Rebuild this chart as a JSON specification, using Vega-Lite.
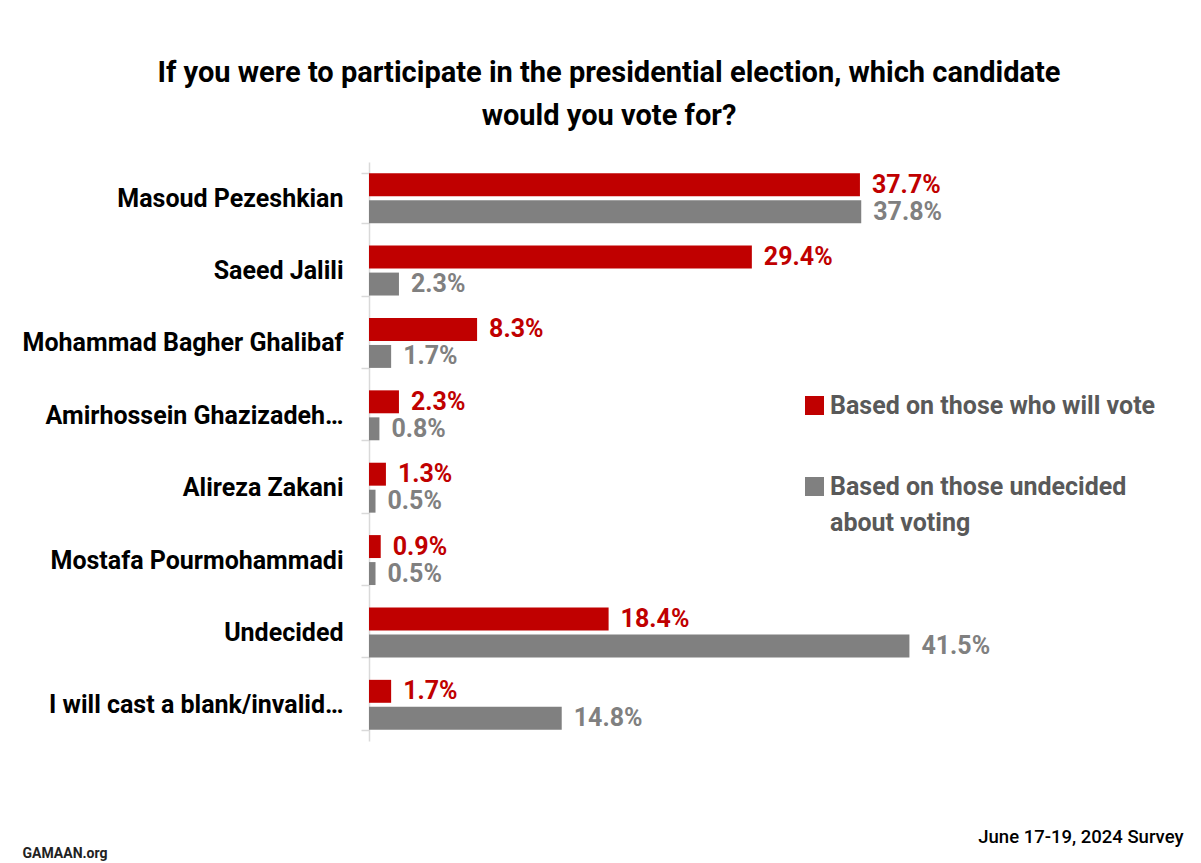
{
  "$schema": "https://vega.github.io/schema/vega-lite/v6.json",
  "autosize": {"type": "none"},
  "width": 586,
  "height": 579,
  "padding": {"left": 369, "top": 162, "right": 246, "bottom": 122},
  "background": "#ffffff",
  "config": {
    "font": "Roboto",
    "view": {"stroke": null},
    "legend": {"symbolType": "square"},
    "style": {"guide-label": {"lineHeight": 36}}
  },
  "title": {
    "text": ["If you were to participate in the presidential election, which candidate", "would you vote for?"],
    "anchor": "middle",
    "frame": "group",
    "dx": -53,
    "offset": 19,
    "fontSize": 29,
    "fontWeight": "bold",
    "font": "Roboto",
    "color": "#000000",
    "lineHeight": 43
  },
  "data": {
    "values": [
      {"candidate": "Masoud Pezeshkian", "basis": "Based on those who will vote", "value": 37.7, "label": "37.7%"},
      {"candidate": "Masoud Pezeshkian", "basis": "Based on those undecided about voting", "value": 37.8, "label": "37.8%"},
      {"candidate": "Saeed Jalili", "basis": "Based on those who will vote", "value": 29.4, "label": "29.4%"},
      {"candidate": "Saeed Jalili", "basis": "Based on those undecided about voting", "value": 2.3, "label": "2.3%"},
      {"candidate": "Mohammad Bagher Ghalibaf", "basis": "Based on those who will vote", "value": 8.3, "label": "8.3%"},
      {"candidate": "Mohammad Bagher Ghalibaf", "basis": "Based on those undecided about voting", "value": 1.7, "label": "1.7%"},
      {"candidate": "Amirhossein Ghazizadeh…", "basis": "Based on those who will vote", "value": 2.3, "label": "2.3%"},
      {"candidate": "Amirhossein Ghazizadeh…", "basis": "Based on those undecided about voting", "value": 0.8, "label": "0.8%"},
      {"candidate": "Alireza Zakani", "basis": "Based on those who will vote", "value": 1.3, "label": "1.3%"},
      {"candidate": "Alireza Zakani", "basis": "Based on those undecided about voting", "value": 0.5, "label": "0.5%"},
      {"candidate": "Mostafa Pourmohammadi", "basis": "Based on those who will vote", "value": 0.9, "label": "0.9%"},
      {"candidate": "Mostafa Pourmohammadi", "basis": "Based on those undecided about voting", "value": 0.5, "label": "0.5%"},
      {"candidate": "Undecided", "basis": "Based on those who will vote", "value": 18.4, "label": "18.4%"},
      {"candidate": "Undecided", "basis": "Based on those undecided about voting", "value": 41.5, "label": "41.5%"},
      {"candidate": "I will cast a blank/invalid…", "basis": "Based on those who will vote", "value": 1.7, "label": "1.7%"},
      {"candidate": "I will cast a blank/invalid…", "basis": "Based on those undecided about voting", "value": 14.8, "label": "14.8%"}
    ]
  },
  "encoding": {
    "y": {
      "field": "candidate",
      "type": "nominal",
      "sort": null,
      "scale": {"paddingInner": 0.31, "paddingOuter": 0.155},
      "axis": {
        "title": "GAMAAN.org",
        "titleAngle": 0,
        "titleX": -347,
        "titleY": 695,
        "titleAlign": "left",
        "titleBaseline": "alphabetic",
        "titleFontSize": 14,
        "titleFontWeight": "bold",
        "titleColor": "#222222",
        "domainColor": "#D9D9D9",
        "domainWidth": 1.5,
        "tickColor": "#D9D9D9",
        "tickWidth": 1.5,
        "tickSize": 8,
        "tickBand": "extent",
        "labelPadding": 18,
        "labelFontSize": 25,
        "labelFontWeight": "bold",
        "labelColor": "#000000",
        "labelLimit": 360
      }
    },
    "yOffset": {
      "field": "basis",
      "type": "nominal",
      "sort": null,
      "scale": {"paddingInner": 0.15}
    },
    "x": {
      "field": "value",
      "type": "quantitative",
      "scale": {"domain": [0, 45], "nice": false},
      "axis": {
        "title": "June 17-19, 2024 Survey",
        "titleX": 814,
        "titleY": 101,
        "titleAlign": "right",
        "titleAnchor": null,
        "titleBaseline": "alphabetic",
        "titleFontSize": 18.5,
        "titleFontWeight": 500,
        "titleColor": "#000000",
        "domain": false,
        "ticks": false,
        "labels": false,
        "grid": false
      }
    },
    "color": {
      "field": "basis",
      "type": "nominal",
      "sort": null,
      "scale": {
        "domain": ["Based on those who will vote", "Based on those undecided about voting"],
        "range": ["#C00000", "#808080"]
      },
      "legend": {
        "title": null,
        "orient": "none",
        "legendX": 433,
        "legendY": 231,
        "padding": 0,
        "symbolSize": 361,
        "symbolStrokeWidth": 0,
        "labelFontSize": 25,
        "labelFontWeight": "bold",
        "labelColor": "#595959",
        "labelOffset": 3,
        "labelLimit": 400,
        "rowPadding": 55,
        "labelExpr": "datum.label == 'Based on those undecided about voting' ? ['Based on those undecided', 'about voting'] : datum.label"
      }
    }
  },
  "layer": [
    {"mark": {"type": "bar"}},
    {
      "mark": {"type": "text", "align": "left", "baseline": "middle", "dx": 12, "fontSize": 25, "fontWeight": "bold"},
      "encoding": {"text": {"field": "label"}}
    }
  ]
}
